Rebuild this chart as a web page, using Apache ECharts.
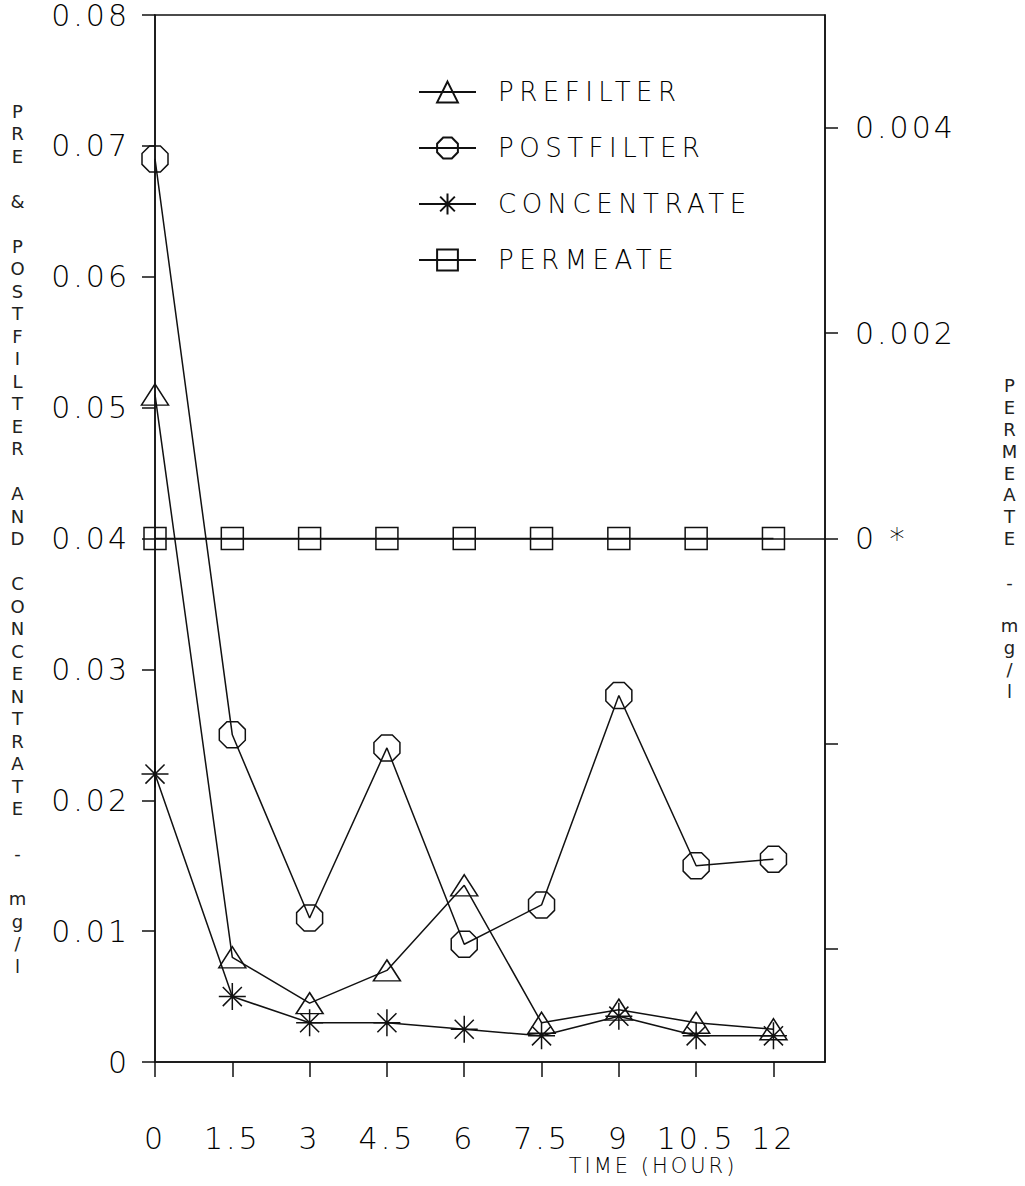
<!DOCTYPE html>
<html>
<head>
<meta charset="utf-8">
<script src="https://cdn.jsdelivr.net/npm/echarts@6/dist/echarts.min.js"></script>
<style>
  html, body { margin: 0; padding: 0; background: #ffffff; }
  #chart { width: 1025px; height: 1186px; }
  /* wide plotter-style lettering */
  #chart svg text { letter-spacing: 3px; }
  /* legend entries (26px) are spaced a little wider still */
  #chart svg text[style*="26px"] { letter-spacing: 5.5px; }
</style>
</head>
<body>
<div id="chart"></div>
<script>
// Sampling times (hours) and measured concentrations (mg/l)
const hours = [0, 1.5, 3, 4.5, 6, 7.5, 9, 10.5, 12];
const prefilter   = [0.051, 0.008, 0.0045, 0.007, 0.0135, 0.003, 0.004, 0.003, 0.0025];
const postfilter  = [0.069, 0.025, 0.011, 0.024, 0.009, 0.012, 0.028, 0.015, 0.0155];
const concentrate = [0.022, 0.005, 0.003, 0.003, 0.0025, 0.002, 0.0035, 0.002, 0.002];
const permeate    = [0, 0, 0, 0, 0, 0, 0, 0, 0];

// Right (permeate) axis tick positions and the labels printed on them
const permeateTicks = [-0.004, -0.002, 0, 0.002, 0.004];
const permeateTickLabels = { '0.004': '0.004', '0.002': '0.002', '0': '0 *' };

const seriesNames = ['PREFILTER', 'POSTFILTER', 'CONCENTRATE', 'PERMEATE'];
const leftTitle = 'PRE & POSTFILTER AND CONCENTRATE - mg/l';
const rightTitle = 'PERMEATE - mg/l';
const xTitle = 'TIME (HOUR)';

const INK = '#111111';
const TEXT_INK = '#000000';
const FONT = '"DejaVu Sans", "Liberation Sans", Arial, sans-serif';
const LIGHT = 300;

// plotter-style markers
const OCTAGON = 'path://M-0.383,-0.924L0.383,-0.924L0.924,-0.383L0.924,0.383L0.383,0.924L-0.383,0.924L-0.924,0.383L-0.924,-0.383Z';
const ASTERISK = 'path://M0,-1L0,1M-1,0L1,0M-0.707,-0.707L0.707,0.707M-0.707,0.707L0.707,-0.707';

// stack letters one per line for the upright vertical axis titles
const stack = s => s.split('').map(c => (c === ' ' ? '' : c)).join('\n');
const pairs = vals => hours.map((h, i) => [h, vals[i]]);

function lineSeries(name, values, symbol, size, yAxisIndex) {
  return {
    name: name,
    type: 'line',
    yAxisIndex: yAxisIndex,
    data: pairs(values),
    symbol: symbol,
    symbolSize: size,
    showAllSymbol: true,
    lineStyle: { color: INK, width: 1.5 },
    itemStyle: { color: 'rgba(0,0,0,0)', borderColor: INK, borderWidth: 1.5 },
    emphasis: { disabled: true },
    animation: false,
    z: 3
  };
}

const permeateSeries = lineSeries(seriesNames[3], permeate, 'rect', 22, 1);
permeateSeries.markLine = {
  silent: true,
  symbol: 'none',
  label: { show: false },
  lineStyle: { color: INK, width: 1.5, type: 'solid' },
  data: [{ yAxis: 0 }],
  animation: false
};

const axisText = { color: TEXT_INK, fontFamily: FONT, fontWeight: LIGHT, fontSize: 30, lineHeight: 24 };
const titleText = { color: '#222222', fontFamily: FONT, fontWeight: 400, fontSize: 18, align: 'center', verticalAlign: 'middle' };

const chart = echarts.init(document.getElementById('chart'), null, { renderer: 'svg' });
chart.setOption({
  backgroundColor: '#ffffff',
  animation: false,
  grid: {
    left: 155, right: 200, top: 15, bottom: 124,
    show: true, borderColor: INK, borderWidth: 1.5, backgroundColor: 'transparent'
  },
  legend: {
    orient: 'vertical',
    left: 413,
    top: 74,
    itemWidth: 57,
    itemHeight: 26,
    itemGap: 30,
    selectedMode: false,
    data: seriesNames,
    textStyle: {
      color: TEXT_INK, fontFamily: FONT, fontWeight: LIGHT, fontSize: 26, lineHeight: 26,
      padding: [0, 0, 0, 17]
    }
  },
  xAxis: {
    type: 'value',
    min: 0,
    max: 13,
    axisLine: { show: true, onZero: false, lineStyle: { color: INK, width: 1.5 } },
    axisTick: { show: true, length: 15, customValues: hours, lineStyle: { color: INK, width: 1.5 } },
    axisLabel: Object.assign({ margin: 64, customValues: hours, formatter: v => String(v) }, axisText),
    splitLine: { show: false }
  },
  yAxis: [
    {
      type: 'value',
      position: 'left',
      min: 0,
      max: 0.08,
      interval: 0.01,
      axisLine: { show: true, lineStyle: { color: INK, width: 1.5 } },
      axisTick: { show: true, length: 13, lineStyle: { color: INK, width: 1.5 } },
      axisLabel: Object.assign({ margin: 25, formatter: v => (v === 0 ? '0' : v.toFixed(2)) }, axisText),
      splitLine: { show: false },
      name: stack(leftTitle),
      nameLocation: 'middle',
      nameRotate: 0,
      nameGap: 136,
      nameTextStyle: Object.assign({ lineHeight: 22.5 }, titleText)
    },
    {
      type: 'value',
      position: 'right',
      min: -0.0051,
      max: 0.0051,
      axisLine: { show: true, lineStyle: { color: INK, width: 1.5 } },
      axisTick: { show: true, length: 13, customValues: permeateTicks, lineStyle: { color: INK, width: 1.5 } },
      axisLabel: Object.assign({
        margin: 30,
        customValues: permeateTicks,
        formatter: v => {
          const key = String(Math.round(v * 1000) / 1000);
          return permeateTickLabels[key] || '';
        }
      }, axisText),
      splitLine: { show: false },
      name: stack(rightTitle),
      nameLocation: 'middle',
      nameRotate: 0,
      nameGap: 186,
      nameTextStyle: Object.assign({ lineHeight: 21.8 }, titleText)
    }
  ],
  graphic: [
    {
      type: 'text',
      x: 653,
      y: 1166,
      silent: true,
      style: {
        text: xTitle, fill: TEXT_INK, fontFamily: FONT, fontWeight: LIGHT, fontSize: 21, lineHeight: 20,
        align: 'center', verticalAlign: 'middle'
      }
    }
  ],
  series: [
    lineSeries(seriesNames[0], prefilter, 'triangle', [27, 21], 0),
    lineSeries(seriesNames[1], postfilter, OCTAGON, 26, 0),
    lineSeries(seriesNames[2], concentrate, ASTERISK, 27, 0),
    permeateSeries
  ]
});
</script>
</body>
</html>
